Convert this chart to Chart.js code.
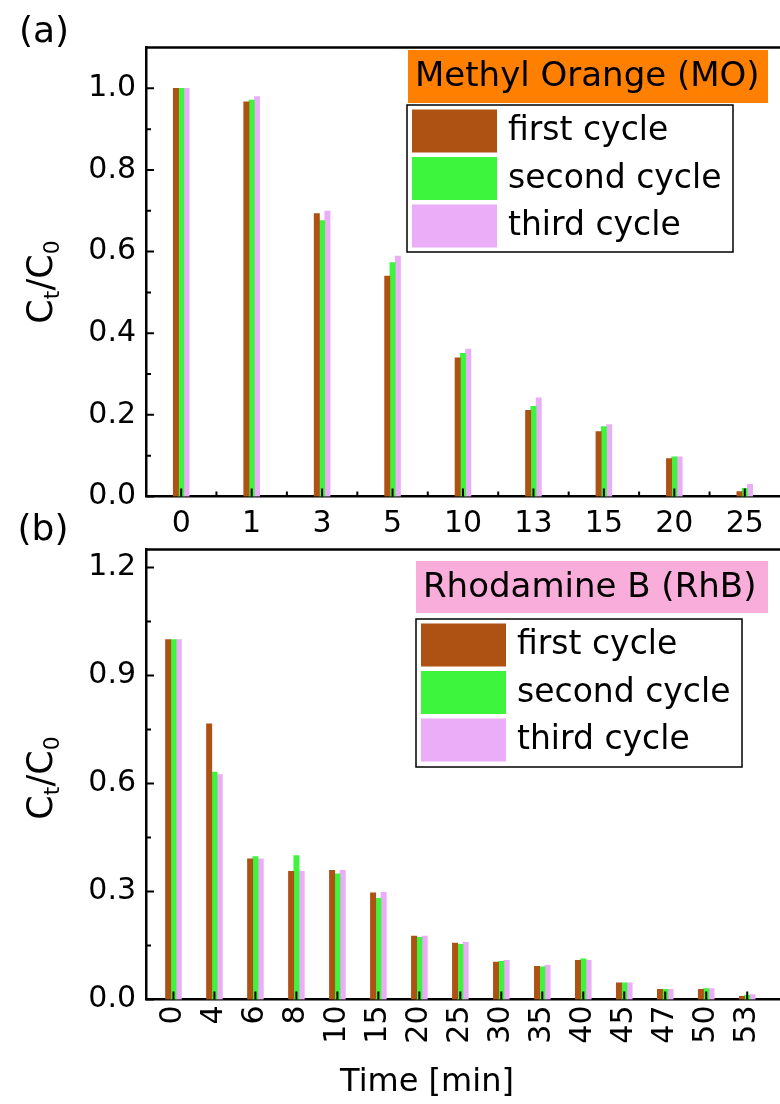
<!DOCTYPE html>
<html>
<head>
<meta charset="utf-8">
<script src="https://cdn.jsdelivr.net/npm/chart.js@4.4.0/dist/chart.umd.min.js"></script>
<style>
  html, body { margin: 0; padding: 0; background: #fff; }
  #wrap { position: relative; width: 780px; height: 1104px; }
  #wrap canvas { position: absolute; left: 0; top: 0; }
</style>
</head>
<body>
<div id="wrap">
  <canvas id="chartMO" width="780" height="1104"></canvas>
  <canvas id="chartRhB" width="780" height="1104"></canvas>
</div>
<script>
// (a) Methyl Orange
var timesMO = ['0', '1', '3', '5', '10', '13', '15', '20', '25'];
var moFirst  = [1.00, 0.967, 0.693, 0.540, 0.340, 0.211, 0.159, 0.093, 0.012];
var moSecond = [1.00, 0.971, 0.676, 0.573, 0.351, 0.221, 0.171, 0.097, 0.020];
var moThird  = [1.00, 0.980, 0.699, 0.589, 0.361, 0.242, 0.176, 0.097, 0.030];
var yTicksMO = [0, 0.2, 0.4, 0.6, 0.8, 1.0];

// (b) Rhodamine B
var timesRhB = ['0', '4', '6', '8', '10', '15', '20', '25', '30', '35', '40', '45', '47', '50', '53'];
var rhbFirst  = [1.00, 0.766, 0.391, 0.356, 0.359, 0.296, 0.176, 0.157, 0.104, 0.092, 0.109, 0.046, 0.028, 0.028, 0.009];
var rhbSecond = [1.00, 0.632, 0.397, 0.400, 0.349, 0.281, 0.173, 0.153, 0.106, 0.091, 0.113, 0.046, 0.028, 0.030, 0.012];
var rhbThird  = [1.00, 0.625, 0.391, 0.356, 0.359, 0.298, 0.176, 0.159, 0.109, 0.095, 0.109, 0.046, 0.028, 0.030, 0.014];
var yTicksRhB = [0, 0.3, 0.6, 0.9, 1.2];

var cycleLabels = ['first cycle', 'second cycle', 'third cycle'];
var cycleColors = ['#AE5214', '#3EF53E', '#EBADF8'];

Chart.defaults.font.family = 'DejaVu Sans';
Chart.defaults.color = '#000';

function toPoints(values) {
    return values.map(function (v, i) { return { x: i, y: v }; });
}

function makeDatasets(series) {
    return series.map(function (values, k) {
        return {
            label: cycleLabels[k],
            data: toPoints(values),
            backgroundColor: cycleColors[k],
            borderWidth: 0,
            barThickness: 5.3
        };
    });
}

// frame top line, inward ticks, y title with subscripts, panel letter, boxed legend
var panelDecor = {
    id: 'panelDecor',
    afterDraw: function (chart, args, o) {
        var ctx = chart.ctx, area = chart.chartArea;
        var xs = chart.scales.x, ys = chart.scales.y;
        ctx.save();
        ctx.strokeStyle = '#000';
        ctx.lineWidth = 2.5;
        ctx.beginPath();
        ctx.moveTo(area.left - 1, area.top);
        ctx.lineTo(area.right + 2, area.top);
        ctx.stroke();

        // ticks pointing inside
        ctx.lineWidth = 2;
        ctx.beginPath();
        o.yMajor.forEach(function (v, i) {
            var py = ys.getPixelForValue(v);
            ctx.moveTo(area.left, py); ctx.lineTo(area.left + 8, py);
            if (i < o.yMajor.length - 1) {
                var pm = ys.getPixelForValue((v + o.yMajor[i + 1]) / 2);
                ctx.moveTo(area.left, pm); ctx.lineTo(area.left + 5, pm);
            }
        });
        for (var i = 0; i < o.nCat; i++) {
            var px = xs.getPixelForValue(i);
            ctx.moveTo(px, area.bottom); ctx.lineTo(px, area.bottom - 8);
            if (o.xMinor && i < o.nCat - 1) {
                var pxm = xs.getPixelForValue(i + 0.5);
                ctx.moveTo(pxm, area.bottom); ctx.lineTo(pxm, area.bottom - 5);
            }
        }
        ctx.stroke();

        // panel letter
        ctx.fillStyle = '#000';
        ctx.font = '36px "DejaVu Sans"';
        ctx.textAlign = 'center';
        ctx.textBaseline = 'middle';
        ctx.fillText(o.letter, o.letterX, o.letterY);

        // y title C_t/C_0
        ctx.save();
        ctx.translate(o.yTitleX, o.yTitleY);
        ctx.rotate(-Math.PI / 2);
        var big = '35px "DejaVu Sans"', small = '22px "DejaVu Sans"';
        var parts = [['C', big, 0], ['t', small, 7], ['/C', big, 0], ['0', small, 7]];
        var total = 0;
        parts.forEach(function (p) { ctx.font = p[1]; total += ctx.measureText(p[0]).width; });
        var cx = -total / 2;
        ctx.textAlign = 'left';
        ctx.textBaseline = 'alphabetic';
        parts.forEach(function (p) {
            ctx.font = p[1];
            ctx.fillText(p[0], cx, 12 + p[2]);
            cx += ctx.measureText(p[0]).width;
        });
        ctx.restore();

        // title box
        var L = o.legend;
        ctx.fillStyle = L.titleBg;
        ctx.fillRect(L.titleX, L.titleY, L.titleW, L.titleH);
        ctx.fillStyle = '#000';
        ctx.font = '34px "DejaVu Sans"';
        ctx.textAlign = 'left';
        ctx.textBaseline = 'middle';
        ctx.fillText(L.title, L.titleX + 7, L.titleY + L.titleH / 2 + 1);

        // legend box
        ctx.fillStyle = '#fff';
        ctx.fillRect(L.boxX, L.boxY, L.boxW, L.boxH);
        ctx.strokeStyle = '#000';
        ctx.lineWidth = 1.5;
        ctx.strokeRect(L.boxX, L.boxY, L.boxW, L.boxH);
        ctx.font = '33px "DejaVu Sans"';
        chart.data.datasets.forEach(function (ds, k) {
            var sy = L.boxY + 4.5 + k * 47.5;
            ctx.fillStyle = ds.backgroundColor;
            ctx.fillRect(L.boxX + 5, sy, 85, 43);
            ctx.fillStyle = '#000';
            ctx.fillText(ds.label, L.boxX + 101, sy + 22);
        });

        if (o.xTitle) {
            ctx.font = '32px "DejaVu Sans"';
            ctx.textAlign = 'center';
            ctx.fillText(o.xTitle, o.xTitleX, o.xTitleY);
        }
        ctx.restore();
    }
};

function makeChart(canvasId, cats, series, yTicks, yMax, xMin, xMax, rotate, pad, decor) {
    var ctx = document.getElementById(canvasId).getContext('2d');
    return new Chart(ctx, {
        type: 'bar',
        data: { datasets: makeDatasets(series) },
        options: {
            responsive: false,
            animation: false,
            layout: { padding: pad },
            plugins: {
                legend: { display: false },
                tooltip: { enabled: false },
                panelDecor: decor
            },
            scales: {
                x: {
                    type: 'linear',
                    offset: false,
                    min: xMin,
                    max: xMax,
                    grid: { display: false, drawTicks: false },
                    border: { display: true, color: '#000', width: 2.5 },
                    afterBuildTicks: function (scale) {
                        scale.ticks = cats.map(function (c, i) { return { value: i }; });
                    },
                    afterFit: function (scale) {
                        scale.height = 50;
                        scale.paddingLeft = 0;
                        scale.paddingRight = 0;
                    },
                    ticks: {
                        autoSkip: false,
                        padding: rotate ? 6 : 10,
                        maxRotation: rotate ? 90 : 0,
                        minRotation: rotate ? 90 : 0,
                        font: { size: 30 },
                        callback: function (v) { return cats[v]; }
                    }
                },
                y: {
                    min: 0,
                    max: yMax,
                    grid: { display: false, drawTicks: false },
                    border: { display: true, color: '#000', width: 2.5 },
                    afterBuildTicks: function (scale) {
                        scale.ticks = yTicks.map(function (v) { return { value: v }; });
                    },
                    afterFit: function (scale) {
                        scale.width = 146;
                        scale.paddingTop = 0;
                        scale.paddingBottom = 0;
                    },
                    ticks: {
                        padding: 10,
                        font: { size: 30 },
                        callback: function (v) { return v.toFixed(1); }
                    }
                }
            }
        },
        plugins: [panelDecor]
    });
}

makeChart('chartMO', timesMO, [moFirst, moSecond, moThird], yTicksMO, 1.1, -0.5, 8.5, false,
    { top: 47.5, left: 0, right: 0, bottom: 557.5 },
    {
        yMajor: yTicksMO, nCat: timesMO.length, xMinor: true,
        letter: '(a)', letterX: 44, letterY: 33,
        yTitleX: 40, yTitleY: 282,
        legend: {
            title: 'Methyl Orange (MO)', titleBg: '#FF8000',
            titleX: 408, titleY: 50, titleW: 360, titleH: 53,
            boxX: 407, boxY: 105, boxW: 326, boxH: 147
        }
    });

makeChart('chartRhB', timesRhB, [rhbFirst, rhbSecond, rhbThird], yTicksRhB, 1.25, -0.67, 14.8, true,
    { top: 549.5, left: 0, right: 0, bottom: 54.5 },
    {
        yMajor: yTicksRhB, nCat: timesRhB.length, xMinor: false,
        letter: '(b)', letterX: 43, letterY: 531,
        yTitleX: 40, yTitleY: 778,
        xTitle: 'Time [min]', xTitleX: 427, xTitleY: 1083,
        legend: {
            title: 'Rhodamine B (RhB)', titleBg: '#F8ADDA',
            titleX: 416, titleY: 561, titleW: 352, titleH: 52,
            boxX: 416, boxY: 619, boxW: 326, boxH: 148
        }
    });
</script>
</body>
</html>
